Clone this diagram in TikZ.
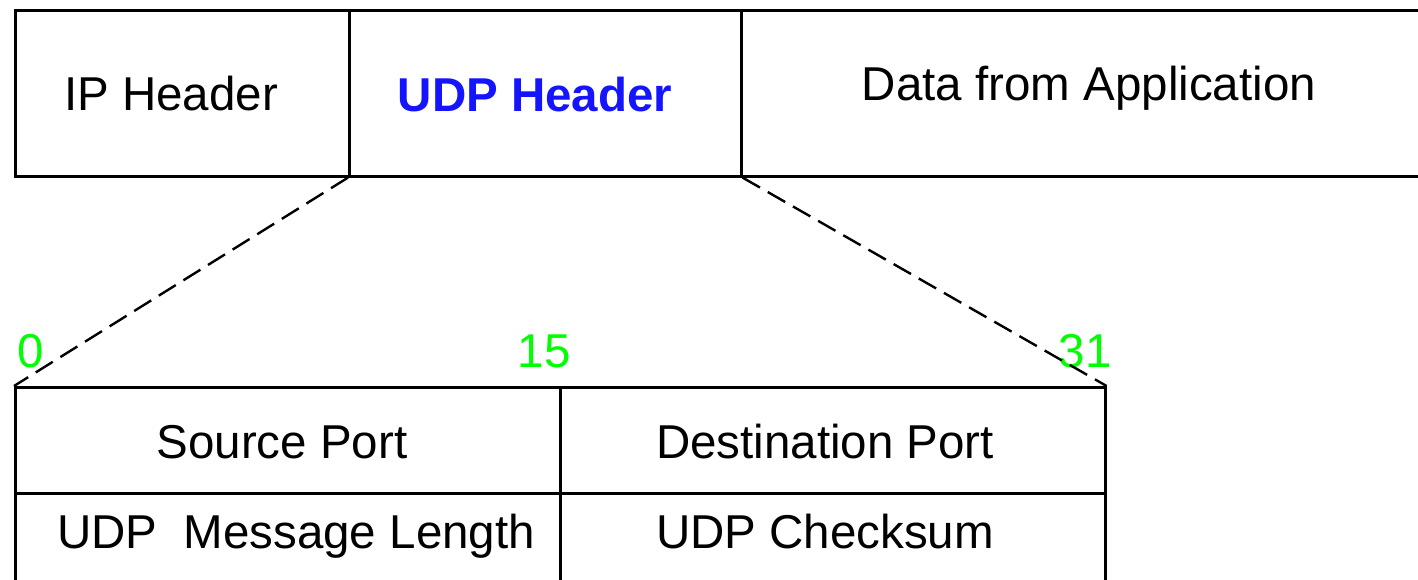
\documentclass[tikz,border=0pt]{standalone}
\usepackage{fontspec}
\setmainfont{Liberation Sans}
\definecolor{numgreen}{RGB}{0,255,0}
\definecolor{hdrblue}{RGB}{20,20,255}
\tikzset{
  cell/.style={draw=black, line width=1.3pt, rectangle, inner sep=0pt, anchor=north west},
  txt/.style={font=\fontsize{23.75}{28}\selectfont, inner sep=0pt, anchor=base},
  num/.style={txt, text=numgreen},
  zoomline/.style={draw=black, line width=1.2pt, dash pattern=on 10pt off 4.5pt}
}
\begin{document}
\begin{tikzpicture}[x=0.5pt,y=-0.5pt]
\path[use as bounding box, clip] (0,0) rectangle (1418,579);
% top packet
\node[cell, minimum width=167pt, minimum height=83pt] (ip) at (14,9) {};
\node[cell, minimum width=196pt, minimum height=83pt] (udp) at (348,9) {};
\node[cell, minimum width=400pt, minimum height=83pt] (data) at (740,9) {};
\node[txt] (iptext) at (171,110) {IP Header};
\node[txt, text=hdrblue, font=\fontsize{23.75}{28}\selectfont\bfseries] (udptext) at (535,111) {UDP Header};
\node[txt] (datatext) at (1089,100) {Data from Application};
% UDP header table
\node[cell, minimum width=272.5pt, minimum height=53pt] (src) at (14,386) {};
\node[cell, minimum width=272.5pt, minimum height=53pt] (dst) at (559,386) {};
\node[cell, minimum width=272.5pt, minimum height=60pt] (len) at (14,492) {};
\node[cell, minimum width=272.5pt, minimum height=60pt] (chk) at (559,492) {};
\node[txt] (srctext) at (282,458) {Source Port};
\node[txt] (dsttext) at (825,458) {Destination Port};
\node[txt] (lentext) at (296,548) {UDP~~Message Length};
\node[txt] (chktext) at (825,548) {UDP Checksum};
% bit numbers
\node[num] (b0) at (31,367) {0};
\node[num] (b15) at (544,367) {15};
\node[num] (b31) at (1085,367) {31};
% zoom lines
\draw[zoomline] (udp.south west) -- (src.north west);
\draw[zoomline] (udp.south east) -- (dst.north east);
\end{tikzpicture}
\end{document}
